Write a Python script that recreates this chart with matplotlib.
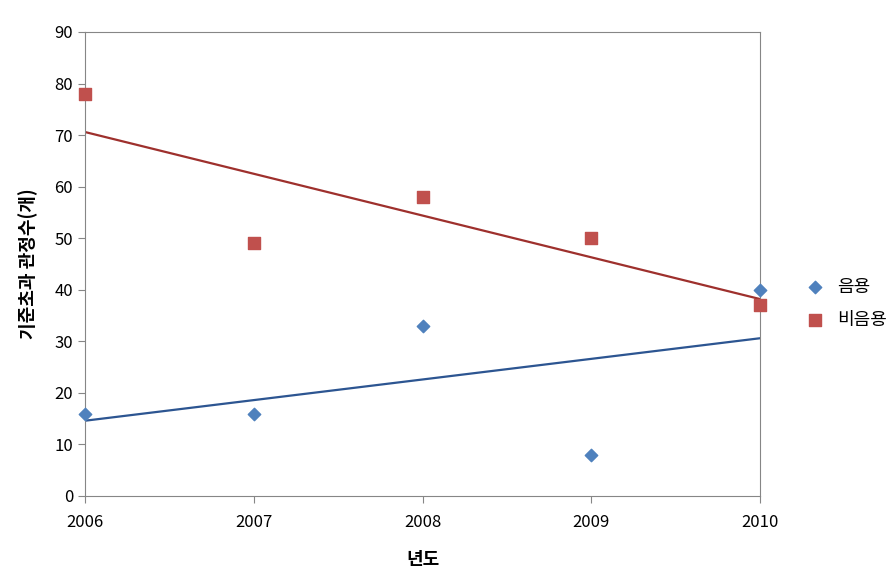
#!/usr/bin/env python3
import numpy as np
import matplotlib
matplotlib.use('Agg')
import matplotlib.pyplot as plt

plt.rcParams['font.family'] = ['Noto Sans CJK KR', 'DejaVu Sans']

# Data
years = [2006, 2007, 2008, 2009, 2010]
drink = [16, 16, 33, 8, 40]          # 음용
nondrink = [78, 49, 58, 50, 37]      # 비음용

fig = plt.figure(figsize=(8.93, 5.82), dpi=100)
ax = fig.add_axes([85/893, 86/582, 675/893, 464/582])

ax.scatter(years, drink, marker='D', s=40, color='#4F81BD', label='음용',
           zorder=3, clip_on=False)
ax.scatter(years, nondrink, marker='s', s=85, color='#C0504D', label='비음용',
           zorder=3, clip_on=False)

# Linear trend lines
xs = np.array([years[0], years[-1]])
for vals, col in [(drink, '#2C5591'), (nondrink, '#9E302D')]:
    k, b = np.polyfit(years, vals, 1)
    ax.plot(xs, k * xs + b, color=col, lw=1.6, zorder=2)

ax.set_xlim(2006, 2010)
ax.set_ylim(0, 90)
ax.set_xticks(years)
ax.set_yticks(range(0, 91, 10))
ax.tick_params(labelsize=12, length=5, color='#868686', direction='out')
ax.tick_params(axis='x', pad=8)
for s in ax.spines.values():
    s.set_color('#868686')

ax.set_xlabel('년도', fontsize=13, fontweight='bold', labelpad=14)
ax.set_ylabel('기준초과 관정수(개)', fontsize=13, fontweight='bold', labelpad=12)

ax.legend(loc='center left', bbox_to_anchor=(1.055, 0.415), frameon=False,
          fontsize=13, handletextpad=0.2, labelspacing=0.85, scatterpoints=1,
          borderaxespad=0, borderpad=0)

fig.savefig('out.png', dpi=100)
